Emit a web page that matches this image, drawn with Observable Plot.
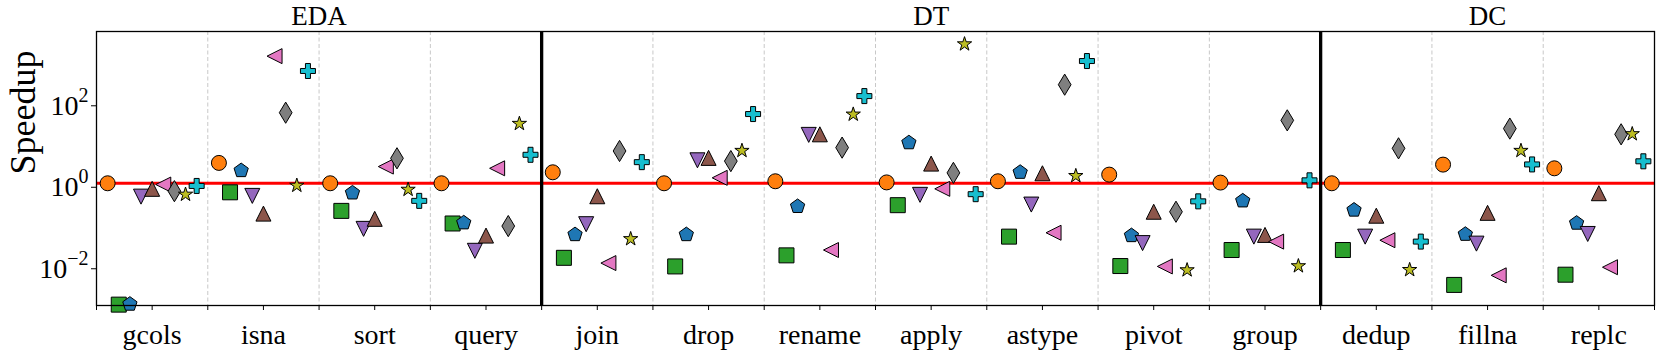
<!DOCTYPE html>
<html><head><meta charset="utf-8">
<script src="https://cdn.jsdelivr.net/npm/d3@7"></script>
<script src="https://cdn.jsdelivr.net/npm/@observablehq/plot@0.6"></script>
<style>
html,body{margin:0;padding:0;background:#fff;}
#chart{width:1660px;height:355px;}
</style>
</head><body><div id="chart"></div>
<script>
// ---- data ----
const categories = ["gcols","isna","sort","query","join","drop","rename","apply","astype","pivot","group","dedup","fillna","replc"];
const groupNames = ["EDA","DT","DC"];
const groupSizes = [4,7,3];
const yTicks = [1e-2, 1e0, 1e2];

const circleVals   = [1.0, 3.16, 1.0, 1.0, 1.86, 1.0, 1.12, 1.05, 1.12, 1.63, 1.04, 1.0, 2.87, 2.33];
const squareVals   = [0.00105, 0.60, 0.21, 0.103, 0.0148, 0.0091, 0.017, 0.29, 0.049, 0.0093, 0.023, 0.023, 0.0032, 0.0057];
const pentagonVals = [0.00108, 2.05, 0.58, 0.107, 0.055, 0.055, 0.27, 9.9, 1.86, 0.052, 0.37, 0.22, 0.056, 0.105];
const triDownVals  = [0.47, 0.49, 0.076, 0.022, 0.099, 3.66, 15.4, 0.52, 0.30, 0.034, 0.049, 0.049, 0.033, 0.057];
const triUpVals    = [0.73, 0.18, 0.134, 0.052, 0.48, 4.2, 15.9, 3.04, 1.76, 0.20, 0.054, 0.16, 0.188, 0.57];
const triLeftVals  = [0.93, 1320, 2.57, 2.33, 0.011, 1.36, 0.023, 0.73, 0.061, 0.0091, 0.037, 0.040, 0.0055, 0.0087];
const diamondVals  = [0.64, 54, 4.1, 0.089, 6.2, 3.5, 7.5, 1.8, 263, 0.20, 35, 7.2, 22, 15.9];
const starVals     = [0.53, 0.88, 0.70, 29, 0.043, 6.3, 49, 2600, 1.52, 0.0074, 0.0093, 0.0075, 6.3, 16.2];
const plusVals     = [0.86, 570, 0.37, 5.0, 3.3, 50, 138, 0.54, 1000, 0.36, 1.18, 0.037, 2.9, 3.46];

// ---- custom marker shapes (matplotlib-like) ----
function poly(ctx, pts){ ctx.moveTo(pts[0][0], pts[0][1]); for (let i=1;i<pts.length;i++) ctx.lineTo(pts[i][0], pts[i][1]); ctx.closePath(); }
const R = size => Math.sqrt(size/Math.PI);
const symSquare = {draw(ctx,s){const h=R(s); poly(ctx,[[-h,-h],[h,-h],[h,h],[-h,h]]);}};
const symPentagon = {draw(ctx,s){const h=R(s); poly(ctx, d3.range(5).map(k=>{const a=-Math.PI/2+k*2*Math.PI/5; return [h*Math.cos(a), h*Math.sin(a)];}));}};
const symTriDown = {draw(ctx,s){const h=R(s); poly(ctx,[[0,h],[-h,-h],[h,-h]]);}};
const symTriUp = {draw(ctx,s){const h=R(s); poly(ctx,[[0,-h],[h,h],[-h,h]]);}};
const symTriLeft = {draw(ctx,s){const h=R(s); poly(ctx,[[-h,0],[h,-h],[h,h]]);}};
const symThinDiamond = {draw(ctx,s){const h=R(s); const v=1.414*h, w=0.849*h; poly(ctx,[[0,-v],[w,0],[0,v],[-w,0]]);}};
const symStar = {draw(ctx,s){const h=R(s); const inner=0.381966*h; poly(ctx, d3.range(10).map(k=>{const a=-Math.PI/2+k*Math.PI/5; const rr = k%2?inner:h; return [rr*Math.cos(a), rr*Math.sin(a)];}));}};
const symPlus = {draw(ctx,s){const h=R(s); const t=h/3; poly(ctx,[[-t,-h],[t,-h],[t,-t],[h,-t],[h,t],[t,t],[t,h],[-t,h],[-t,t],[-h,t],[-h,-t],[-t,-t]]);}};

const series = [
  {vals: circleVals,   symbol: "circle",       fill: "#ff7f0e"},
  {vals: squareVals,   symbol: symSquare,      fill: "#2ca02c"},
  {vals: pentagonVals, symbol: symPentagon,    fill: "#1f77b4"},
  {vals: triDownVals,  symbol: symTriDown,     fill: "#9467bd"},
  {vals: triUpVals,    symbol: symTriUp,       fill: "#8c564b"},
  {vals: triLeftVals,  symbol: symTriLeft,     fill: "#e377c2"},
  {vals: diamondVals,  symbol: symThinDiamond, fill: "#7f7f7f"},
  {vals: starVals,     symbol: symStar,        fill: "#bcbd22"},
  {vals: plusVals,     symbol: symPlus,        fill: "#17becf"}
];

// group layout derived from sizes
const groupStarts = groupSizes.map((_, g) => d3.sum(groupSizes.slice(0, g)));
const groups = groupNames.map((name, g) => ({name, center: groupStarts[g] + (groupSizes[g]-1)/2}));
const dividers = groupStarts.slice(1).map(s => s - 0.5);
const boundaries = d3.range(1, categories.length).map(i => i - 0.5).filter(b => !dividers.includes(b));
const halfTicks = d3.range(0, categories.length*2 + 1).map(k => k/2 - 0.5);

const dotMarks = series.map((s, k) => Plot.dot(
  s.vals.map((v, i) => ({x: i + (k - 4) * 0.1, y: v})),
  {x: "x", y: "y", r: 7.5, symbol: s.symbol, fill: s.fill, stroke: "black", strokeWidth: 1}
));

const chart = Plot.plot({
  width: 1660, height: 355,
  marginTop: 31, marginRight: 6, marginBottom: 50, marginLeft: 96,
  style: {fontFamily: "'Liberation Serif', 'Times New Roman', serif", fontSize: "28px", background: "white", color: "black"},
  x: {type: "linear", domain: [-0.5, categories.length - 0.5]},
  y: {type: "log", domain: [1e-3, Math.pow(10, 3.725)]},
  marks: [
    Plot.ruleX(boundaries, {stroke: "#c8c8c8", strokeWidth: 1, strokeDasharray: "4,2.5"}),
    Plot.ruleY([1], {stroke: "#ff0000", strokeWidth: 3}),
    Plot.ruleX(dividers, {stroke: "black", strokeWidth: 3.3}),
    ...dotMarks,
    Plot.frame({stroke: "black", strokeWidth: 1.3}),
    Plot.axisX(halfTicks, {tickFormat: () => "", tickSize: 5, label: null}),
    Plot.axisX(d3.range(categories.length), {tickFormat: i => categories[i], tickSize: 0, tickPadding: 19, fontSize: 28, label: null}),
    Plot.axisY(yTicks, {tickFormat: d => "10^" + Math.round(Math.log10(d)), tickSize: 5, tickPadding: 3, fontSize: 28, dy: 4, label: null}),
    Plot.text(groups, {x: "center", text: "name", frameAnchor: "top", dy: -15, fontSize: 27, lineAnchor: "middle"}),
    Plot.text(["Speedup"], {frameAnchor: "left", text: d => d, rotate: -90, dx: -73, dy: 6, fontSize: 36, lineAnchor: "middle"})
  ]
});

document.getElementById("chart").appendChild(chart);

// render superscripts in y tick labels
d3.select(chart).selectAll('g[aria-label="y-axis tick label"] text').each(function() {
  const t = d3.select(this);
  const s = t.text();
  const m = s.match(/^10\^(-?\d+)$/);
  if (!m) return;
  t.text(null);
  t.append("tspan").text("10");
  t.append("tspan").attr("dy", "-13").attr("font-size", "20px").text(m[1].replace("-", "\u2212"));
});
</script>
</body></html>
